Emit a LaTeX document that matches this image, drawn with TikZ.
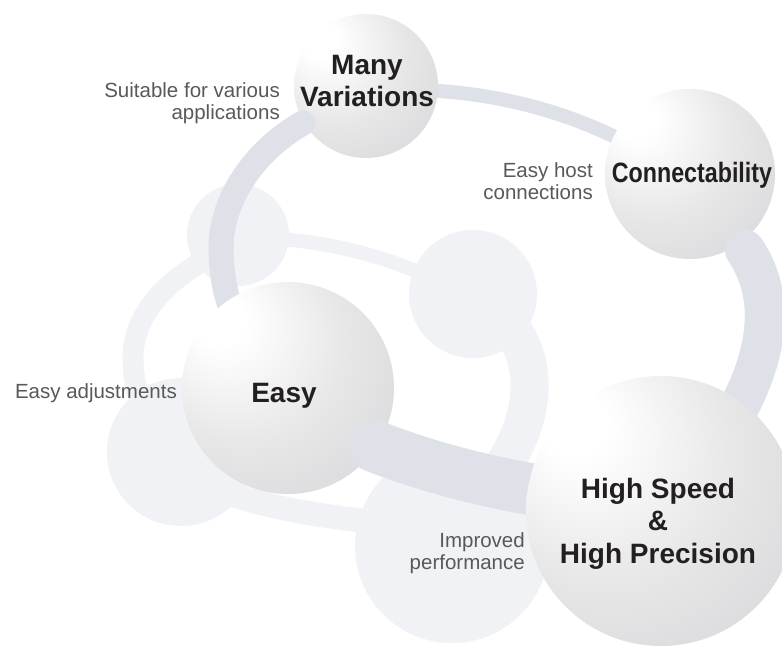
\documentclass[tikz,border=0pt]{standalone}
\usepackage{fontspec}
\setmainfont{Liberation Sans}
\usepackage{graphicx}
\definecolor{ringlight}{RGB}{241,242,246}
\definecolor{ringdark}{RGB}{223,225,233}
\definecolor{labelgray}{RGB}{88,89,91}
\definecolor{titleink}{RGB}{35,31,32}
\definecolor{sphB}{RGB}{231,231,232}
\definecolor{sphC}{RGB}{212,213,215}
\definecolor{sphD}{RGB}{166,167,171}
\pgfdeclareradialshading{sphereshade}{\pgfpoint{-18bp}{18bp}}{color(0bp)=(white); color(6bp)=(white); color(24bp)=(sphB); color(44bp)=(sphC); color(58bp)=(sphD)}
\begin{document}
\begin{tikzpicture}[x=1pt,y=-1pt,
  sphere/.style={shading=sphereshade},
  title/.style={font=\bfseries\fontsize{28}{32.5}\selectfont, text=titleink, align=center, inner sep=0pt},
  note/.style={font=\fontsize{20.5}{22.5}\selectfont, text=labelgray, align=right, inner sep=0pt},
  lightband/.style={draw=ringlight},
  darkband/.style={draw=ringdark},
]
\fill[white] (0,0) rectangle (782,649);
\useasboundingbox (0,0) rectangle (782,649);

% ---- light ring with its discs
\draw[lightband, line width=14pt] (280,239) .. controls (330,243) and (385,255) .. (440,282);
\draw[lightband, line width=21pt] (205,260) .. controls (160,285) and (132,320) .. (133,360) .. controls (134,395) and (145,420) .. (165,440);
\draw[lightband, line width=24pt] (215,488) .. controls (255,505) and (310,515) .. (375,522);
\draw[lightband, line width=38pt] (505,320) .. controls (540,360) and (540,420) .. (490,485);
\fill[ringlight] (238,235) circle[radius=51pt];
\fill[ringlight] (473,294) circle[radius=64pt];
\fill[ringlight] (181,452) circle[radius=74pt];
\fill[ringlight] (452,546) circle[radius=97pt];

% ---- dark ring, back parts
\draw[darkband, line width=14pt] (420,90) .. controls (480,92) and (560,105) .. (640,150);

% Many Variations sphere
\path[sphere] (366,86) circle[radius=72pt];
\draw[darkband, line width=25pt, line cap=round] (303,123) .. controls (255,150) and (220,200) .. (221,250) .. controls (222,285) and (228,305) .. (238,322);

% Easy sphere
\path[sphere] (288,388) circle[radius=106pt];
% Connectability sphere
\path[sphere] (690,174) circle[radius=85pt];

\draw[darkband, line width=40pt, line cap=round] (745,250) .. controls (772,290) and (778,350) .. (720,440);
\draw[darkband, line width=52pt, line cap=round] (374,446) .. controls (430,468) and (500,487) .. (590,498);

% High Speed sphere
\path[sphere] (661,511) circle[radius=135pt];

% ---- texts
\node[title, anchor=north] (mv) at (367,55) {Many\\Variations};
\node[title, anchor=base] (conn) at (692,182) {\scalebox{0.83}[1]{Connectability}};
\node[title, anchor=base] (easy) at (284,402) {Easy};
\node[title, anchor=north] (hs) at (658,478) {High Speed\\\&\\High Precision};

\node[note, anchor=north east] (mvnote) at (280,82) {Suitable for various\\applications};
\node[note, anchor=north east] (connnote) at (593,162) {Easy host\\connections};
\node[note, anchor=base east] (easynote) at (177,398) {Easy adjustments};
\node[note, anchor=north east] (hsnote) at (525,532) {Improved\\performance};
\end{tikzpicture}
\end{document}
